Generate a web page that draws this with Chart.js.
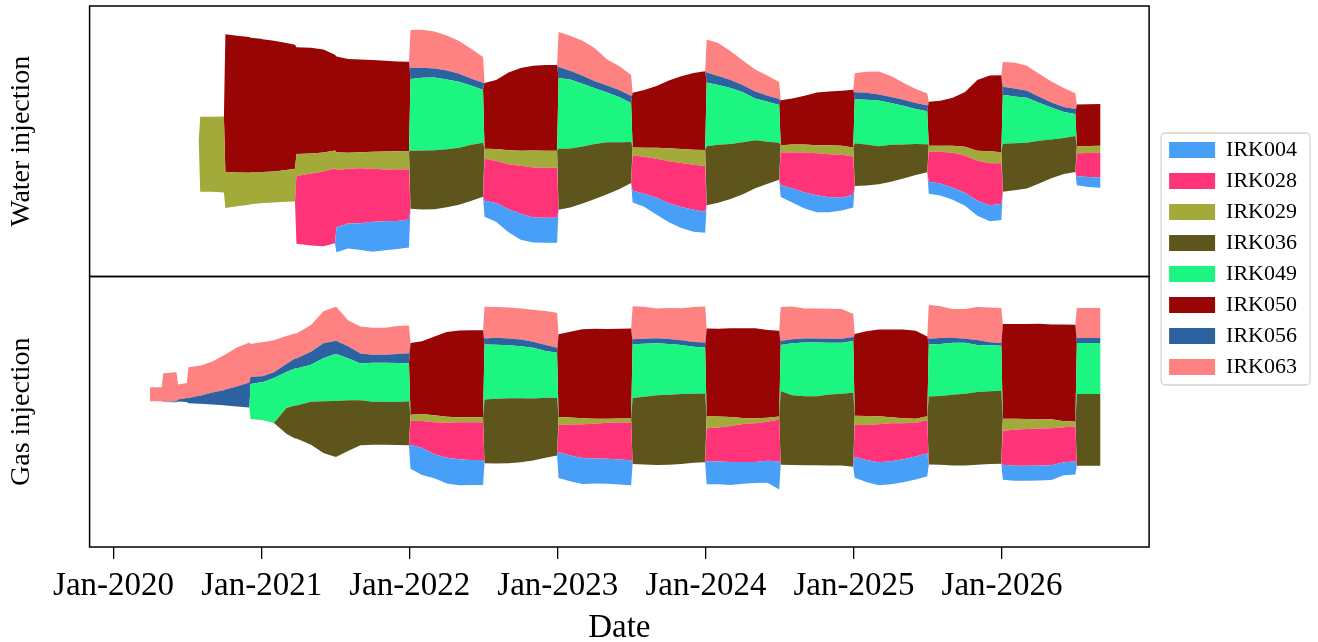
<!DOCTYPE html>
<html>
<head>
<meta charset="utf-8">
<title>Water and gas injection per well</title>
<script src="https://cdn.jsdelivr.net/npm/chart.js@4.4.0/dist/chart.umd.min.js"></script>
<style>
  html, body { margin: 0; padding: 0; background: #fff; }
  #wrap { width: 1318px; height: 642px; position: relative; }
</style>
</head>
<body>
<div id="wrap"><canvas id="chart"></canvas></div>
<script>
// sample dates, decimal years (each half year: start, monthly, end)
const dates = [
  2020.245, 2020.325, 2020.335, 2020.425, 2020.435, 2020.495,
  2020.505, 2020.575, 2020.585, 2020.667, 2020.745, 2020.755, 2020.833, 2020.917, 2020.925, 2020.995,
  2021.005, 2021.083, 2021.167, 2021.225, 2021.235, 2021.333, 2021.417, 2021.495,
  2021.505, 2021.583, 2021.667, 2021.750, 2021.833, 2021.917, 2021.995,
  2022.005, 2022.083, 2022.167, 2022.250, 2022.333, 2022.417, 2022.495,
  2022.505, 2022.583, 2022.667, 2022.750, 2022.833, 2022.917, 2022.995,
  2023.005, 2023.083, 2023.167, 2023.250, 2023.333, 2023.417, 2023.495,
  2023.505, 2023.583, 2023.667, 2023.750, 2023.833, 2023.917, 2023.995,
  2024.005, 2024.083, 2024.167, 2024.250, 2024.333, 2024.417, 2024.495,
  2024.505, 2024.583, 2024.667, 2024.750, 2024.833, 2024.917, 2024.995,
  2025.005, 2025.083, 2025.167, 2025.250, 2025.333, 2025.417, 2025.495,
  2025.505, 2025.583, 2025.667, 2025.750, 2025.833, 2025.917, 2025.995,
  2026.005, 2026.083, 2026.167, 2026.250, 2026.333, 2026.417, 2026.495,
  2026.505, 2026.583, 2026.665
];

const wells = ['IRK004', 'IRK028', 'IRK029', 'IRK036', 'IRK049', 'IRK050', 'IRK056', 'IRK063'];
const colors = ['#479ff8', '#ff3377', '#a2aa3a', '#5d551c', '#1cf57f', '#990505', '#2c629f', '#ff8282'];

const tickYears = [2020, 2021, 2022, 2023, 2024, 2025, 2026];
const tickLabels = ['Jan-2020', 'Jan-2021', 'Jan-2022', 'Jan-2023', 'Jan-2024', 'Jan-2025', 'Jan-2026'];

// water injection rates
const water_IRK004 = [
  0, 0, 0, 0, 0, 0,
  0, 0, 0, 0, 0, 0, 0, 0, 0, 0,
  0, 0, 0, 0, 0, 0, 0, 0,
  25, 25, 27, 30, 29, 28, 28,
  0, 0, 0, 0, 0, 0, 0,
  16, 19, 23, 26, 25, 25, 25,
  0, 0, 0, 0, 0, 0, 0,
  12, 13, 17, 19, 21, 22, 21,
  0, 0, 0, 0, 0, 0, 0,
  12, 14, 16, 17, 15, 13, 13,
  0, 0, 0, 0, 0, 0, 0,
  12, 12, 12, 13, 15, 16, 16,
  0, 0, 0, 0, 0, 0, 0,
  9, 10, 10
];
const water_IRK028 = [
  0, 0, 0, 0, 0, 0,
  0, 0, 0, 0, 0, 0, 0, 0, 0, 0,
  0, 0, 0, 0, 68, 72, 75, 75,
  57, 55, 55, 53, 52, 52, 50,
  0, 0, 0, 0, 0, 0, 0,
  42, 42, 45, 48, 50, 50, 50,
  0, 0, 0, 0, 0, 0, 0,
  35, 37, 39, 42, 44, 45, 46,
  0, 0, 0, 0, 0, 0, 0,
  33, 36, 40, 42, 43, 43, 38,
  0, 0, 0, 0, 0, 0, 0,
  30, 32, 35, 37, 40, 42, 41,
  0, 0, 0, 0, 0, 0, 0,
  23, 24, 25
];
const water_IRK029 = [
  0, 0, 0, 0, 0, 0,
  0, 0, 75, 75, 76, 36, 34, 32, 32, 31,
  31, 31, 32, 33, 22, 20, 19, 18,
  18, 16, 16, 17, 18, 18, 18,
  0, 0, 0, 0, 0, 0, 0,
  10, 12, 14, 15, 17, 17, 17,
  0, 0, 0, 0, 0, 0, 0,
  8, 9, 11, 13, 14, 15, 16,
  0, 0, 0, 0, 0, 0, 0,
  7, 8, 8, 8, 9, 9, 9,
  0, 0, 0, 0, 0, 0, 0,
  6, 6, 7, 9, 10, 12, 11,
  0, 0, 0, 0, 0, 0, 0,
  7, 7, 7
];
const water_IRK036 = [
  0, 0, 0, 0, 0, 0,
  0, 0, 0, 0, 0, 0, 0, 0, 0, 0,
  0, 0, 0, 0, 0, 0, 0, 0,
  0, 0, 0, 0, 0, 0, 0,
  58, 59, 59, 58, 57, 56, 54,
  0, 0, 0, 0, 0, 0, 0,
  61, 59, 57, 55, 52, 47, 41,
  0, 0, 0, 0, 0, 0, 0,
  59, 58, 55, 52, 48, 42, 37,
  0, 0, 0, 0, 0, 0, 0,
  43, 41, 38, 37, 34, 31, 28,
  0, 0, 0, 0, 0, 0, 0,
  48, 47, 46, 43, 39, 36, 36,
  0, 0, 0
];
const water_IRK049 = [
  0, 0, 0, 0, 0, 0,
  0, 0, 0, 0, 0, 0, 0, 0, 0, 0,
  0, 0, 0, 0, 0, 0, 0, 0,
  0, 0, 0, 0, 0, 0, 0,
  72, 73, 73, 70, 66, 59, 53,
  0, 0, 0, 0, 0, 0, 0,
  71, 69, 63, 56, 50, 45, 39,
  0, 0, 0, 0, 0, 0, 0,
  64, 60, 56, 50, 42, 40, 38,
  0, 0, 0, 0, 0, 0, 0,
  44, 45, 46, 42, 39, 35, 33,
  0, 0, 0, 0, 0, 0, 0,
  49, 47, 45, 38, 32, 26, 22,
  0, 0, 0
];
const water_IRK050 = [
  0, 0, 0, 0, 0, 0,
  0, 0, 0, 0, 0, 138, 137, 136, 135, 134,
  133, 131, 127, 124, 107, 106, 103, 96,
  96, 94, 93, 92, 91, 90, 90,
  0, 0, 0, 0, 0, 0, 0,
  66, 69, 78, 83, 85, 86, 86,
  0, 0, 0, 0, 0, 0, 0,
  55, 58, 62, 68, 73, 77, 79,
  0, 0, 0, 0, 0, 0, 0,
  45, 46, 49, 53, 54, 55, 58,
  0, 0, 0, 0, 0, 0, 0,
  44, 45, 48, 55, 71, 76, 77,
  0, 0, 0, 0, 0, 0, 0,
  42, 42, 42
];
const water_IRK056 = [
  0, 0, 0, 0, 0, 0,
  0, 0, 0, 0, 0, 0, 0, 0, 0, 0,
  0, 0, 0, 0, 0, 0, 0, 0,
  0, 0, 0, 0, 0, 0, 0,
  11, 10, 9, 9, 8, 7, 7,
  0, 0, 0, 0, 0, 0, 0,
  11, 9, 8, 7, 7, 7, 7,
  0, 0, 0, 0, 0, 0, 0,
  10, 9, 8, 7, 7, 6, 6,
  0, 0, 0, 0, 0, 0, 0,
  7, 7, 6, 6, 6, 6, 6,
  0, 0, 0, 0, 0, 0, 0,
  8, 8, 7, 6, 5, 5, 5,
  0, 0, 0
];
const water_IRK063 = [
  0, 0, 0, 0, 0, 0,
  0, 0, 0, 0, 0, 0, 0, 0, 0, 0,
  0, 0, 0, 0, 0, 0, 0, 0,
  0, 0, 0, 0, 0, 0, 0,
  38, 38, 37, 35, 33, 30, 26,
  0, 0, 0, 0, 0, 0, 0,
  35, 35, 35, 33, 26, 24, 21,
  0, 0, 0, 0, 0, 0, 0,
  33, 33, 29, 25, 22, 20, 17,
  0, 0, 0, 0, 0, 0, 0,
  19, 21, 23, 21, 17, 14, 12,
  0, 0, 0, 0, 0, 0, 0,
  25, 26, 25, 23, 21, 19, 16,
  0, 0, 0
];

// gas injection rates
const gas_IRK004 = [
  0, 0, 0, 0, 0, 0,
  0, 0, 0, 0, 0, 0, 0, 0, 0, 0,
  0, 0, 0, 0, 0, 0, 0, 0,
  0, 0, 0, 0, 0, 0, 0,
  24, 27, 24, 26, 26, 25, 25,
  0, 0, 0, 0, 0, 0, 0,
  26, 26, 26, 25, 25, 25, 25,
  0, 0, 0, 0, 0, 0, 0,
  23, 23, 23, 22, 21, 22, 28,
  0, 0, 0, 0, 0, 0, 0,
  21, 22, 23, 23, 23, 23, 23,
  0, 0, 0, 0, 0, 0, 0,
  15, 15, 15, 15, 15, 13, 13,
  0, 0, 0
];
const gas_IRK028 = [
  0, 0, 0, 0, 0, 0,
  0, 0, 0, 0, 0, 0, 0, 0, 0, 0,
  0, 0, 0, 0, 0, 0, 0, 0,
  0, 0, 0, 0, 0, 0, 0,
  24, 27, 32, 35, 37, 38, 38,
  0, 0, 0, 0, 0, 0, 0,
  27, 31, 34, 35, 36, 37, 38,
  0, 0, 0, 0, 0, 0, 0,
  33, 34, 36, 38, 39, 39, 42,
  0, 0, 0, 0, 0, 0, 0,
  32, 35, 38, 38, 36, 34, 33,
  0, 0, 0, 0, 0, 0, 0,
  34, 36, 37, 37, 37, 35, 35,
  0, 0, 0
];
const gas_IRK029 = [
  0, 0, 0, 0, 0, 0,
  0, 0, 0, 0, 0, 0, 0, 0, 0, 0,
  0, 0, 0, 0, 0, 0, 0, 0,
  0, 0, 0, 0, 0, 0, 0,
  6, 7, 7, 6, 5, 5, 5,
  0, 0, 0, 0, 0, 0, 0,
  8, 7, 6, 5, 4, 4, 4,
  0, 0, 0, 0, 0, 0, 0,
  12, 11, 9, 6, 5, 4, 3,
  0, 0, 0, 0, 0, 0, 0,
  9, 9, 8, 6, 5, 4, 4,
  0, 0, 0, 0, 0, 0, 0,
  12, 11, 10, 9, 9, 6, 5,
  0, 0, 0
];
const gas_IRK036 = [
  0, 0, 0, 0, 0, 0,
  0, 0, 0, 0, 0, 0, 0, 0, 0, 0,
  0, 0, 26, 33, 33, 43, 52, 56,
  56, 51, 45, 43, 43, 43, 44,
  0, 0, 0, 0, 0, 0, 0,
  64, 65, 65, 64, 62, 60, 58,
  0, 0, 0, 0, 0, 0, 0,
  66, 68, 70, 70, 70, 69, 69,
  0, 0, 0, 0, 0, 0, 0,
  74, 70, 69, 69, 71, 72, 74,
  0, 0, 0, 0, 0, 0, 0,
  68, 69, 71, 72, 73, 73, 73,
  0, 0, 0, 0, 0, 0, 0,
  72, 72, 72
];
const gas_IRK049 = [
  0, 0, 0, 0, 0, 0,
  0, 0, 0, 0, 0, 0, 0, 0, 35, 38,
  38, 45, 36, 37, 37, 37, 43, 47,
  47, 42, 37, 39, 39, 39, 38,
  0, 0, 0, 0, 0, 0, 0,
  55, 54, 53, 52, 51, 47, 45,
  0, 0, 0, 0, 0, 0, 0,
  54, 53, 52, 51, 49, 47, 46,
  0, 0, 0, 0, 0, 0, 0,
  46, 52, 54, 54, 52, 51, 52,
  0, 0, 0, 0, 0, 0, 0,
  52, 52, 52, 51, 47, 46, 45,
  0, 0, 0, 0, 0, 0, 0,
  51, 51, 51
];
const gas_IRK050 = [
  0, 0, 0, 0, 0, 0,
  0, 0, 0, 0, 0, 0, 0, 0, 0, 0,
  0, 0, 0, 0, 0, 0, 0, 0,
  0, 0, 0, 0, 0, 0, 0,
  72, 73, 79, 85, 87, 87, 87,
  0, 0, 0, 0, 0, 0, 0,
  83, 86, 89, 90, 90, 90, 90,
  0, 0, 0, 0, 0, 0, 0,
  88, 88, 89, 90, 90, 88, 86,
  0, 0, 0, 0, 0, 0, 0,
  82, 85, 87, 88, 89, 88, 80,
  0, 0, 0, 0, 0, 0, 0,
  95, 95, 95, 96, 95, 97, 97,
  0, 0, 0
];
const gas_IRK056 = [
  0, 0, 0, 1, 2, 4,
  5, 8, 8, 12, 15, 16, 20, 25, 7, 6,
  6, 6, 8, 10, 10, 13, 15, 13,
  13, 12, 10, 8, 8, 9, 10,
  0, 0, 0, 0, 0, 0, 0,
  6, 7, 7, 7, 6, 6, 5,
  0, 0, 0, 0, 0, 0, 0,
  5, 5, 5, 5, 5, 5, 5,
  0, 0, 0, 0, 0, 0, 0,
  4, 4, 4, 4, 4, 4, 4,
  0, 0, 0, 0, 0, 0, 0,
  6, 6, 5, 4, 5, 3, 3,
  0, 0, 0, 0, 0, 0, 0,
  5, 5, 5
];
const gas_IRK063 = [
  14, 14, 29, 29, 15, 15,
  31, 30, 30, 31, 35, 35, 39, 40, 33, 34,
  34, 32, 28, 25, 25, 27, 32, 34,
  34, 26, 27, 27, 27, 28, 28,
  0, 0, 0, 0, 0, 0, 0,
  32, 31, 31, 31, 32, 34, 35,
  0, 0, 0, 0, 0, 0, 0,
  33, 32, 30, 31, 32, 35, 36,
  0, 0, 0, 0, 0, 0, 0,
  34, 33, 30, 30, 30, 30, 23,
  0, 0, 0, 0, 0, 0, 0,
  34, 32, 29, 30, 33, 35, 35,
  0, 0, 0, 0, 0, 0, 0,
  30, 30, 30
];

const waterSeries = [water_IRK004, water_IRK028, water_IRK029, water_IRK036, water_IRK049, water_IRK050, water_IRK056, water_IRK063];
const gasSeries = [gas_IRK004, gas_IRK028, gas_IRK029, gas_IRK036, gas_IRK049, gas_IRK050, gas_IRK056, gas_IRK063];

const FONT = "'Liberation Serif', 'Times New Roman', serif";
Chart.defaults.font.family = FONT;
Chart.defaults.color = '#000';

// streamgraph ("wiggle") baseline, then cumulative layers filled to the previous one
function panelDatasets(series, axisId, inLegend) {
  const m = series.length;
  const base = dates.map((d, j) =>
    -series.reduce((s, arr, i) => s + (m - 0.5 - i) * arr[j], 0) / m);
  const common = { yAxisID: axisId, borderWidth: 0, borderColor: 'rgba(0,0,0,0)', pointRadius: 0, tension: 0 };
  const out = [{ ...common, label: '', data: base.map((y, j) => ({ x: dates[j], y })), fill: false, inLegend: false }];
  let run = base.slice();
  series.forEach((arr, i) => {
    run = run.map((v, j) => v + arr[j]);
    out.push({
      ...common,
      label: wells[i],
      data: run.map((y, j) => ({ x: dates[j], y })),
      backgroundColor: colors[i],
      fill: '-1',
      inLegend
    });
  });
  return out;
}

const framePlugin = {
  id: 'frames',
  afterLayout(chart) {
    // put the legend box next to the top half of the plot, like the original
    const lg = chart.legend;
    const a = chart.chartArea;
    const dx = a.right + 11 - lg.left;
    const dy = a.top + 124 - lg.top;
    lg.left += dx; lg.right += dx;
    lg.top += dy; lg.bottom += dy;
  },
  afterDraw(chart) {
    const ctx = chart.ctx;
    const a = chart.chartArea;
    ctx.save();
    ctx.strokeStyle = '#000';
    ctx.lineWidth = 1.5;
    ['yW', 'yG'].forEach(id => {
      const s = chart.scales[id];
      ctx.strokeRect(a.left, s.top, a.right - a.left, s.bottom - s.top);
    });
    const hb = chart.legend.legendHitBoxes;
    if (hb && hb.length) {
      const x0 = hb[0].left - 8;
      const y0 = hb[0].top - 6;
      const x1 = Math.max(...hb.map(h => h.left + h.width)) + 13;
      const y1 = hb[hb.length - 1].top + hb[hb.length - 1].height + 7;
      ctx.strokeStyle = '#d4d4d4';
      ctx.lineWidth = 1.3;
      ctx.beginPath();
      ctx.roundRect(x0, y0, x1 - x0, y1 - y0, 4);
      ctx.stroke();
    }
    ctx.restore();
  }
};

new Chart(document.getElementById('chart'), {
  type: 'line',
  data: {
    datasets: [
      ...panelDatasets(waterSeries, 'yW', true),
      ...panelDatasets(gasSeries, 'yG', false)
    ]
  },
  options: {
    responsive: true,
    maintainAspectRatio: false,
    devicePixelRatio: 1,
    animation: false,
    events: [],
    layout: { padding: { top: 6, right: 22, bottom: 0, left: 0 } },
    plugins: {
      tooltip: { enabled: false },
      legend: {
        position: 'right',
        align: 'start',
        labels: {
          filter: (item, data) => data.datasets[item.datasetIndex].inLegend,
          boxWidth: 46,
          boxHeight: 16,
          padding: 9,
          color: '#000',
          font: { size: 22 }
        }
      }
    },
    scales: {
      x: {
        type: 'linear',
        position: 'bottom',
        min: 2019.838,
        max: 2026.993,
        afterBuildTicks: s => { s.ticks = tickYears.map(v => ({ value: v })); },
        ticks: {
          callback: (v, i) => tickLabels[i],
          autoSkip: false,
          maxRotation: 0,
          padding: 8,
          color: '#000',
          font: { size: 33, lineHeight: 1.2 }
        },
        grid: { display: true, drawOnChartArea: false, drawTicks: true, tickLength: 12, color: '#000', lineWidth: 1.3 },
        border: { display: false },
        title: { display: true, text: 'Date', color: '#000', font: { size: 33, lineHeight: 0.8 }, padding: { top: 1, bottom: 0 } }
      },
      yG: {
        type: 'linear',
        position: 'left',
        stack: 'panels',
        stackWeight: 1,
        min: -147,
        max: 124,
        ticks: { display: false },
        grid: { display: false, drawTicks: false },
        border: { display: false },
        title: { display: true, text: 'Gas injection', color: '#000', font: { size: 28, lineHeight: 1.2 }, padding: { top: 5, bottom: 51 } }
      },
      yW: {
        type: 'linear',
        position: 'left',
        stack: 'panels',
        stackWeight: 1,
        min: -136.5,
        max: 134.5,
        ticks: { display: false },
        grid: { display: false, drawTicks: false },
        border: { display: false },
        title: { display: true, text: 'Water injection', color: '#000', font: { size: 28, lineHeight: 1.2 }, padding: { top: 5, bottom: 51 } }
      }
    }
  },
  plugins: [framePlugin]
});
</script>
</body>
</html>
